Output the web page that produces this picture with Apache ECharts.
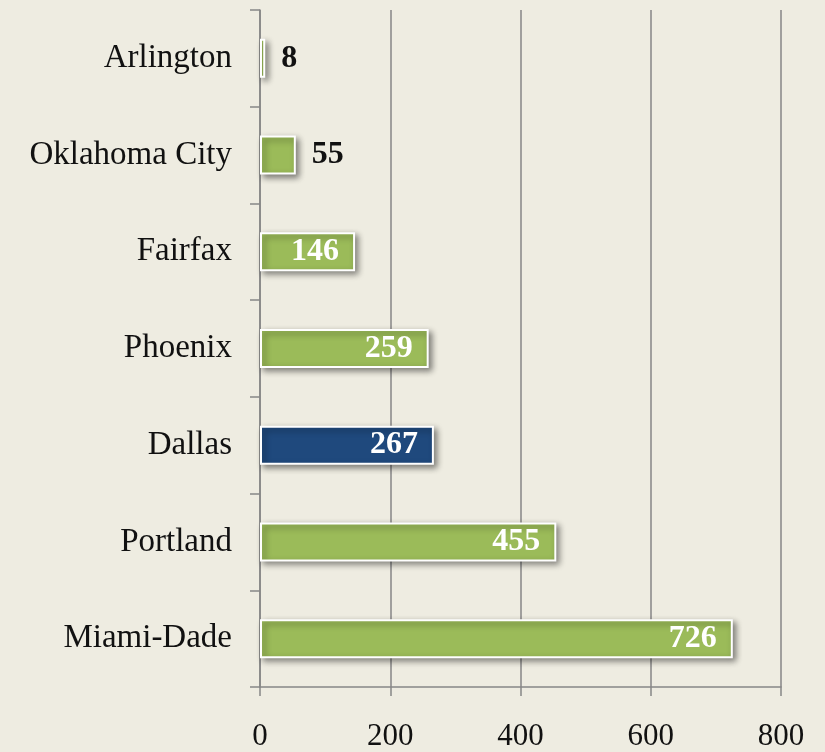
<!DOCTYPE html>
<html>
<head>
<meta charset="utf-8">
<script src="https://cdn.jsdelivr.net/npm/echarts@6/dist/echarts.min.js"></script>
<style>
html,body{margin:0;padding:0;background:#EEECE1;}
#chart{width:825px;height:752px;}
</style>
</head>
<body>
<div id="chart"></div>
<script>
var categories = ['Arlington', 'Oklahoma City', 'Fairfax', 'Phoenix', 'Dallas', 'Portland', 'Miami-Dade'];
var values = [8, 55, 146, 259, 267, 455, 726];
var highlighted = ['Dallas'];
var xTicks = [0, 200, 400, 600, 800];

var GREEN = '#9BBB59', BLUE = '#1F497D';
var FONT = '"Liberation Serif", "DejaVu Serif", serif';

var data = values.map(function (v, i) {
  var isHi = highlighted.indexOf(categories[i]) >= 0;
  var inside = v > 100;
  return {
    value: v,
    itemStyle: { color: isHi ? BLUE : GREEN },
    label: inside ? {
      position: 'insideRight', distance: 16, color: '#fff', padding: [4, 0, 0, 0]
    } : {
      position: 'right', distance: 16, color: '#111', padding: [6, 0, 0, 0]
    }
  };
});

var chart = echarts.init(document.getElementById('chart'));
chart.setOption({
  backgroundColor: '#EEECE1',
  animation: false,
  grid: { left: 260, right: 44, top: 10, bottom: 63, containLabel: false },
  xAxis: {
    type: 'value',
    min: xTicks[0], max: xTicks[xTicks.length - 1], interval: 200,
    axisLine: { show: true, lineStyle: { color: '#868686', width: 1.5 } },
    axisTick: { show: true, length: 9, lineStyle: { color: '#868686', width: 1.5 } },
    splitLine: { show: true, lineStyle: { color: '#868686', width: 1.5 } },
    axisLabel: { color: '#111', fontFamily: FONT, fontSize: 31, margin: 34 }
  },
  yAxis: {
    type: 'category',
    data: categories,
    inverse: true,
    axisLine: { show: true, lineStyle: { color: '#868686', width: 1.5 } },
    axisTick: { show: true, length: 10, lineStyle: { color: '#868686', width: 1.5 } },
    axisLabel: { color: '#111', fontFamily: FONT, fontSize: 33, margin: 28 }
  },
  series: [{
    type: 'bar',
    data: data,
    barWidth: 39,
    itemStyle: {
      borderColor: '#ffffff', borderWidth: 2,
      shadowColor: 'rgba(0,0,0,0.45)', shadowBlur: 6, shadowOffsetX: 3, shadowOffsetY: 3
    },
    label: {
      show: true, fontFamily: FONT, fontWeight: 'bold', fontSize: 32
    }
  }]
});
</script>
</body>
</html>
